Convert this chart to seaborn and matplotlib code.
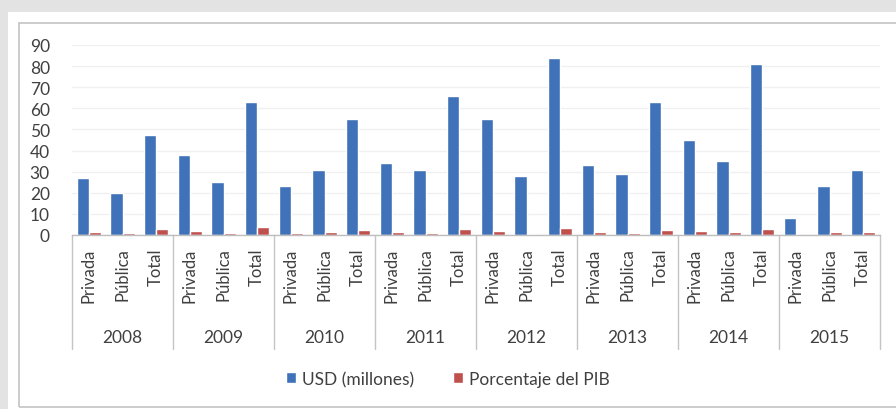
import matplotlib
matplotlib.use("Agg")
import matplotlib.pyplot as plt
import matplotlib.transforms as mtransforms
from matplotlib.patches import Rectangle
import seaborn as sns
import pandas as pd

# ---- data ----
years = ["2008", "2009", "2010", "2011", "2012", "2013", "2014", "2015"]
types = ["Privada", "Pública", "Total"]
usd = [27, 20, 47.5, 38, 25, 63, 23, 31, 55, 34, 31, 66,
       55, 28, 84, 33, 29, 63, 45, 35, 81, 8, 23, 31]
pib = [1.6, 0.8, 2.7, 1.7, 1.1, 3.6, 0.8, 1.4, 2.5, 1.4, 0.8, 2.7,
       1.7, 0.6, 3.3, 1.4, 0.8, 2.4, 1.7, 1.4, 3.0, 0.2, 1.4, 1.4]
series_names = ["USD (millones)", "Porcentaje del PIB"]
yticks = [0, 10, 20, 30, 40, 50, 60, 70, 80, 90]

keys = [f"{y}-{t}" for y in years for t in types]
cat_labels = [t for y in years for t in types]
df = pd.DataFrame({
    "key": keys * 2,
    "valor": usd + pib,
    "serie": [series_names[0]] * len(keys) + [series_names[1]] * len(keys),
})

# ---- style ----
sns.set_style("white")
plt.rcParams["font.family"] = ["Lato", "DejaVu Sans"]
txt = "#404040"

fig = plt.figure(figsize=(8.96, 4.10), dpi=100, facecolor="#e3e3e3")
fig.patches.append(Rectangle((8 / 896, 0), 1.0, 1 - 13 / 410, transform=fig.transFigure,
                             facecolor="white", edgecolor="none", zorder=-3))
fig.patches.append(Rectangle((19 / 896, 2 / 410), 1.0, 1 - 26 / 410, transform=fig.transFigure,
                             facecolor="none", edgecolor="#c4c4c4", lw=1.2, zorder=-2))

ax = fig.add_axes([72 / 896, 1 - 236 / 410, (880 - 72) / 896, 190 / 410])
ax.set_facecolor("none")

sns.barplot(data=df, x="key", y="valor", hue="serie", order=keys,
            hue_order=series_names, palette=["#3f72b8", "#c0504d"],
            width=0.72, gap=0, saturation=1, ax=ax, legend=True)

ax.set_xlim(-0.5, len(keys) - 0.5)
ax.set_ylim(0, 90)
ax.set_yticks(yticks)
ax.set_yticklabels([str(v) for v in yticks], fontsize=12.5, color=txt)
ax.tick_params(axis="y", length=0, pad=16)
ax.set_xticks(range(len(keys)))
ax.set_xticklabels(cat_labels, rotation=90, fontsize=12, color=txt, va="top", ha="center")
ax.tick_params(axis="x", length=0, pad=9)
ax.set_xlabel("")
ax.set_ylabel("")
ax.yaxis.grid(True, color="#f0f0f0", lw=1)
ax.set_axisbelow(True)
for s in ["top", "right", "left"]:
    ax.spines[s].set_visible(False)
ax.spines["bottom"].set_color("#bdbdbd")
ax.spines["bottom"].set_linewidth(1.0)

# hierarchical year axis
trans = mtransforms.blended_transform_factory(ax.transData, ax.transAxes)
for i in range(len(years) + 1):
    ax.plot([i * 3 - 0.5, i * 3 - 0.5], [0, -0.6], transform=trans, color="#c4c4c4",
            lw=1.0, clip_on=False)
for i, y in enumerate(years):
    ax.text(i * 3 + 1, -0.535, y, transform=trans, ha="center", va="center",
            fontsize=12.5, color=txt)

# legend
handles, labels = ax.get_legend_handles_labels()
ax.get_legend().remove()
fig.legend(handles, labels, loc="center", bbox_to_anchor=(448 / 896, 1 - 380 / 410),
           ncol=2, frameon=False, fontsize=12.5, handlelength=0.6, handleheight=0.6,
           handletextpad=0.35, columnspacing=2.2, labelcolor=txt)

fig.savefig("out.png", dpi=100, facecolor=fig.get_facecolor())
